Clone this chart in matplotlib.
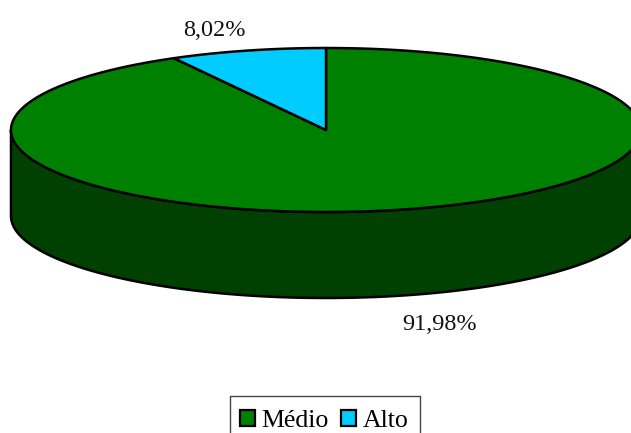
import numpy as np
from matplotlib import pyplot as plt
from matplotlib.patches import Patch, Rectangle

categories = ['Médio', 'Alto']
shares = [91.98, 8.02]
share_labels = ['91,98%', '8,02%']
top_colors = ['#008000', '#00CCFF']
side_colors = ['#004000', '#006680']

plt.rcParams['font.family'] = ['Liberation Serif', 'DejaVu Serif']

# disc geometry in picture pixels
cx, cy = 326, 130
rx, ry = 315, 82
depth = 86


def rim(a0, a1, n=300):
    # angles in degrees, clockwise from the top of the disc
    t = np.radians(np.linspace(a0, a1, n))
    return cx + rx * np.sin(t), cy - ry * np.cos(t)


fig = plt.figure(figsize=(6.31, 4.33), dpi=100)
ax = fig.add_axes([0, 0, 1, 1])
ax.set_xlim(0, 631)
ax.set_ylim(433, 0)
ax.axis('off')

# slices start at 12 o'clock and run clockwise
angles = np.cumsum([0] + shares) * 360 / sum(shares)

# wall of the disc, only the front half shows
for i in range(len(shares)):
    a0 = max(angles[i], 90)
    a1 = min(angles[i + 1], 270)
    if a1 <= a0:
        continue
    x, y = rim(a0, a1)
    ax.fill(np.r_[x, x[::-1]], np.r_[y, y[::-1] + depth],
            facecolor=side_colors[i], edgecolor='black', lw=1.8, joinstyle='round')

# top face
for i in range(len(shares)):
    x, y = rim(angles[i], angles[i + 1])
    ax.fill(np.r_[cx, x], np.r_[cy, y],
            facecolor=top_colors[i], edgecolor='black', lw=1.8, joinstyle='round')

ax.text(439.5, 324, share_labels[0], fontsize=17.5, ha='center', va='center', color='#111111')
ax.text(214.5, 30, share_labels[1], fontsize=17.5, ha='center', va='center', color='#111111')

# legend box runs off the bottom of the picture
ax.add_patch(Rectangle((230, 396), 190, 60, facecolor='white', edgecolor='#444444', lw=1.0))
handles = [Patch(facecolor=c, edgecolor='black', lw=1.6) for c in top_colors]
ax.legend(handles, categories, loc='upper left', bbox_to_anchor=(230 / 631, 1 - 400 / 433),
          ncol=2, fontsize=18.6, frameon=False, borderaxespad=0, borderpad=0.38,
          handlelength=0.58, handleheight=0.58, handletextpad=0.27, columnspacing=0.45)

plt.savefig('out.png', dpi=100)
